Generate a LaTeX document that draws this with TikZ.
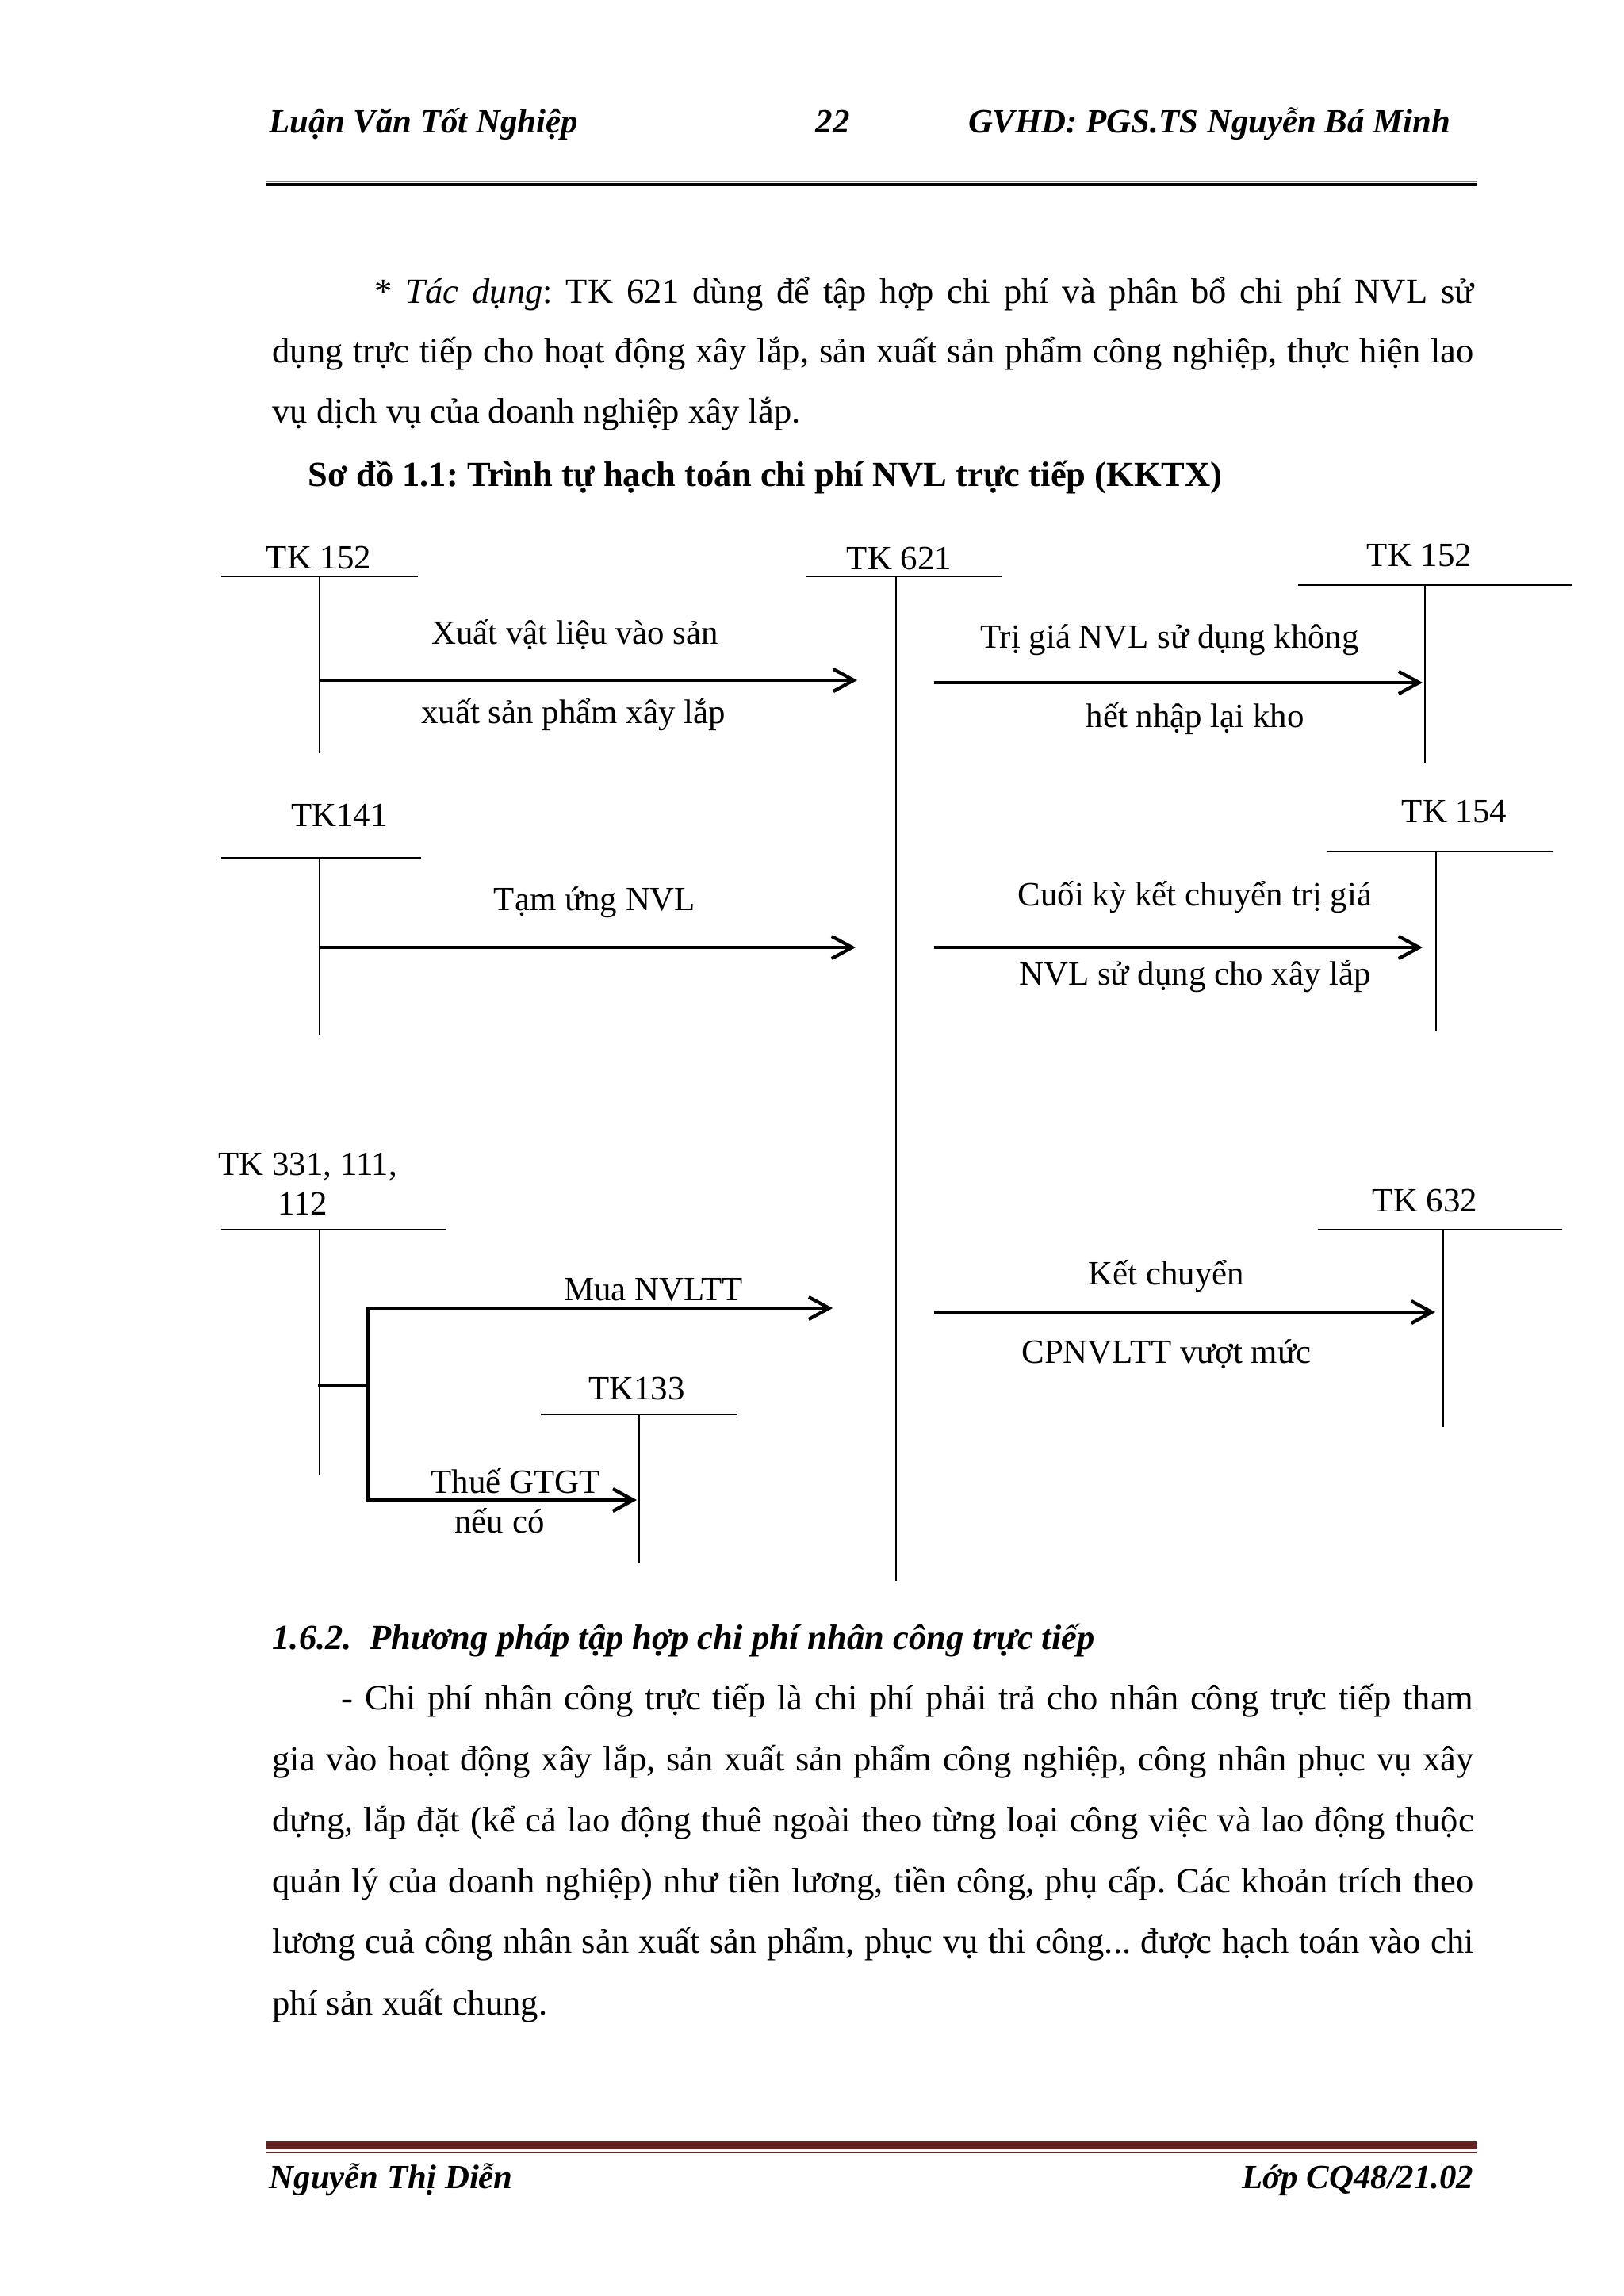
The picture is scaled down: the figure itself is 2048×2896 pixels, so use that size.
\documentclass[tikz,border=0pt]{standalone}
\usepackage{fontspec}
\setmainfont{Liberation Serif}
\usetikzlibrary{arrows.meta}
\definecolor{footred}{HTML}{632523}
\definecolor{rulegray}{HTML}{808080}
\frenchspacing
\begin{document}
\frenchspacing
\begin{tikzpicture}[x=0.10254mm,y=-0.10254mm,
  body/.style={inner sep=0pt,anchor=base west,font=\fontsize{13pt}{15pt}\selectfont},
  lbl/.style={inner sep=0pt,anchor=base,font=\fontsize{12.5pt}{15pt}\selectfont},
  hdr/.style={inner sep=0pt,font=\fontsize{12.5pt}{15pt}\selectfont\bfseries\itshape},
  tline/.style={line width=0.68pt},
  vline/.style={line width=0.58pt},
  flow/.style={line width=1.25pt,-{Straight Barb[length=7.5pt,width=8.2pt]}},
  branch/.style={line width=1.25pt,line cap=rect}]
\fill[white] (0,0) rectangle (2048,2896);
\useasboundingbox (0,0) rectangle (2048,2896);

% ---------- header ----------
\node[hdr,anchor=base west] (h1) at (339,167) {Luận Văn Tốt Nghiệp};
\node[hdr,anchor=base west] (h2) at (1028,167) {22};
\node[hdr,anchor=base east] (h3) at (1830,167) {GVHD: PGS.TS Nguyễn Bá Minh};
\coordinate (hr1a) at (336,228.8); \coordinate (hr1b) at (1862,228.8);
\coordinate (hr2a) at (336,232.5); \coordinate (hr2b) at (1862,232.5);
\draw[rulegray,line width=0.45pt] (hr1a) -- (hr1b);
\draw[black,line width=0.65pt] (hr2a) -- (hr2b);

% ---------- paragraph 1 ----------
\node[body] (p1) at (472,382) {\makebox[142.1mm][s]{* \textit{Tác dụng}: TK 621 dùng để tập hợp chi phí và phân bổ chi phí NVL sử}};
\node[body] (p2) at (343,457) {\makebox[155.35mm][s]{dụng trực tiếp cho hoạt động xây lắp, sản xuất sản phẩm công nghiệp, thực hiện lao}};
\node[body] (p3) at (343,533) {vụ dịch vụ của doanh nghiệp xây lắp.};
\node[body,font=\fontsize{13pt}{15pt}\selectfont\bfseries] (cap) at (388,613) {Sơ đồ 1.1: Trình tự hạch toán chi phí NVL trực tiếp (KKTX)};

% ---------- accounts (T shapes) ----------
% TK 152 left
\node[lbl] (tk152l) at (402,717) {TK 152};
\coordinate (t1a) at (279,727); \coordinate (t1b) at (527,727);
\coordinate (v1a) at (403,727); \coordinate (v1b) at (403,950);
\draw[tline] (t1a) -- (t1b); \draw[vline] (v1a) -- (v1b);
% TK 621
\node[lbl] (tk621) at (1134,718) {TK 621};
\coordinate (t2a) at (1016,727); \coordinate (t2b) at (1263,727);
\coordinate (v2a) at (1130,727); \coordinate (v2b) at (1130,1994);
\draw[tline] (t2a) -- (t2b); \draw[vline] (v2a) -- (v2b);
% TK 152 right
\node[lbl] (tk152r) at (1790,714) {TK 152};
\coordinate (t3a) at (1637,738); \coordinate (t3b) at (1983,738);
\coordinate (v3a) at (1797,738); \coordinate (v3b) at (1797,962);
\draw[tline] (t3a) -- (t3b); \draw[vline] (v3a) -- (v3b);
% TK141
\node[lbl] (tk141) at (428,1042) {TK141};
\coordinate (t4a) at (279,1082); \coordinate (t4b) at (531,1082);
\coordinate (v4a) at (403,1082); \coordinate (v4b) at (403,1305);
\draw[tline] (t4a) -- (t4b); \draw[vline] (v4a) -- (v4b);
% TK 154
\node[lbl] (tk154) at (1834,1037) {TK 154};
\coordinate (t5a) at (1674,1074); \coordinate (t5b) at (1958,1074);
\coordinate (v5a) at (1811,1074); \coordinate (v5b) at (1811,1300);
\draw[tline] (t5a) -- (t5b); \draw[vline] (v5a) -- (v5b);
% TK 331, 111, 112
\node[lbl,anchor=base west] (tk331) at (275,1482) {TK 331, 111,};
\node[lbl] (tk331b) at (382,1532) {112};
\coordinate (t6a) at (279,1551); \coordinate (t6b) at (562,1551);
\coordinate (v6a) at (403,1551); \coordinate (v6b) at (403,1860);
\draw[tline] (t6a) -- (t6b); \draw[vline] (v6a) -- (v6b);
% TK133
\node[lbl] (tk133) at (803,1765) {TK133};
\coordinate (t7a) at (682,1784); \coordinate (t7b) at (930,1784);
\coordinate (v7a) at (806,1784); \coordinate (v7b) at (806,1971);
\draw[tline] (t7a) -- (t7b); \draw[vline] (v7a) -- (v7b);
% TK 632
\node[lbl] (tk632) at (1797,1528) {TK 632};
\coordinate (t8a) at (1662,1551); \coordinate (t8b) at (1970,1551);
\coordinate (v8a) at (1820,1551); \coordinate (v8b) at (1820,1800);
\draw[tline] (t8a) -- (t8b); \draw[vline] (v8a) -- (v8b);

% ---------- flows ----------
\coordinate (a1s) at (403,858); \coordinate (a1e) at (1081,858);
\draw[flow] (a1s) -- (a1e);
\node[lbl] (l1a) at (725,812) {Xuất vật liệu vào sản};
\node[lbl] (l1b) at (723,912) {xuất sản phẩm xây lắp};

\coordinate (a2s) at (1178,861); \coordinate (a2e) at (1794,861);
\draw[flow] (a2s) -- (a2e);
\node[lbl] (l2a) at (1475,817) {Trị giá NVL sử dụng không};
\node[lbl] (l2b) at (1507,917) {hết nhập lại kho};

\coordinate (a3s) at (403,1195); \coordinate (a3e) at (1079,1195);
\draw[flow] (a3s) -- (a3e);
\node[lbl] (l3a) at (750,1148) {Tạm ứng NVL};

\coordinate (a4s) at (1178,1195); \coordinate (a4e) at (1794,1195);
\draw[flow] (a4s) -- (a4e);
\node[lbl] (l4a) at (1507,1142) {Cuối kỳ kết chuyển trị giá};
\node[lbl] (l4b) at (1507,1242) {NVL sử dụng cho xây lắp};

% branch from TK 331
\coordinate (bs) at (403,1748); \coordinate (bm) at (464,1748);
\coordinate (btop) at (464,1650); \coordinate (bbot) at (464,1892);
\draw[branch] (bs) -- (bm);
\draw[branch] (btop) -- (bbot);
\coordinate (a5e) at (1050,1650);
\draw[flow] (btop) -- (a5e);
\node[lbl] (l5a) at (824,1640) {Mua NVLTT};
\coordinate (a6e) at (803,1892);
\draw[flow] (bbot) -- (a6e);
\node[lbl] (l6a) at (650,1883) {Thuế GTGT};
\node[lbl] (l6b) at (630,1933) {nếu có};

\coordinate (a7s) at (1178,1655); \coordinate (a7e) at (1810,1655);
\draw[flow] (a7s) -- (a7e);
\node[lbl] (l7a) at (1471,1620) {Kết chuyển};
\node[lbl] (l7b) at (1471,1719) {CPNVLTT vượt mức};

% ---------- section 1.6.2 ----------
\node[body,font=\fontsize{13pt}{15pt}\selectfont\bfseries\itshape] (sec) at (343,2080) {1.6.2.\ \ Phương pháp tập hợp chi phí nhân công trực tiếp};
\node[body] (q1) at (430,2156) {\makebox[146.4mm][s]{- Chi phí nhân công trực tiếp là chi phí phải trả cho nhân công trực tiếp tham}};
\node[body] (q2) at (343,2233) {\makebox[155.35mm][s]{gia vào hoạt động xây lắp, sản xuất sản phẩm công nghiệp, công nhân phục vụ xây}};
\node[body] (q3) at (343,2310) {\makebox[155.35mm][s]{dựng, lắp đặt (kể cả lao động thuê ngoài theo từng loại công việc và lao động thuộc}};
\node[body] (q4) at (343,2387) {\makebox[155.35mm][s]{quản lý của doanh nghiệp) như tiền lương, tiền công, phụ cấp. Các khoản trích theo}};
\node[body] (q5) at (343,2463) {\makebox[155.35mm][s]{lương cuả công nhân sản xuất sản phẩm, phục vụ thi công... được hạch toán vào chi}};
\node[body] (q6) at (343,2541) {phí sản xuất chung.};

% ---------- footer ----------
\coordinate (fr1a) at (336,2706); \coordinate (fr1b) at (1862,2706);
\coordinate (fr2a) at (336,2714.8); \coordinate (fr2b) at (1862,2714.8);
\draw[footred,line width=2.9pt] (fr1a) -- (fr1b);
\draw[footred,line width=0.6pt] (fr2a) -- (fr2b);
\node[hdr,anchor=base west] (f1) at (339,2760) {Nguyễn Thị Diễn};
\node[hdr,anchor=base east] (f2) at (1859,2760) {Lớp CQ48/21.02};
\end{tikzpicture}
\end{document}
